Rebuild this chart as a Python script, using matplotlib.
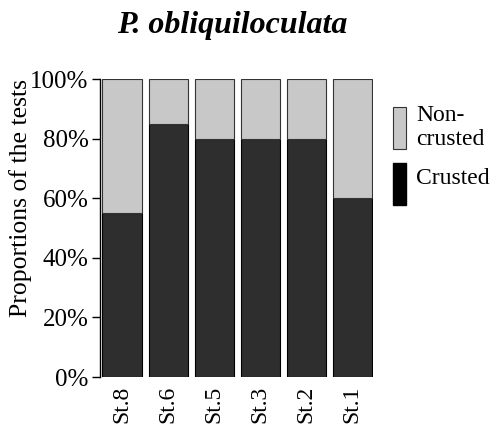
import numpy as np
import matplotlib
matplotlib.use("Agg")
import matplotlib.pyplot as plt
from matplotlib.patches import Patch, Rectangle
from matplotlib.legend_handler import HandlerPatch

matplotlib.rcParams.update({
    "font.family": "serif",
    "font.serif": ["Liberation Serif", "DejaVu Serif"],
    "font.size": 17,
})

stations = ["St.8", "St.6", "St.5", "St.3", "St.2", "St.1"]
crusted = [55, 85, 80, 80, 80, 60]
non_crusted = [100 - c for c in crusted]

dark = "#2e2e2e"
light = "#c8c8c8"

fig = plt.figure(figsize=(5, 4.28), dpi=100)
ax = fig.add_axes([0.199, 0.119, 0.547, 0.696])

x = np.arange(len(stations))
ax.bar(x, crusted, width=0.85, color=dark, edgecolor="black", linewidth=0.8)
ax.bar(x, non_crusted, bottom=crusted, width=0.85, color=light,
       edgecolor="#333333", linewidth=0.8)

ax.set_xlim(-0.49, 5.45)
ax.set_ylim(0, 100)
for s in ["top", "right", "bottom"]:
    ax.spines[s].set_visible(False)
ax.spines["left"].set_linewidth(1.0)
ax.set_yticks([0, 20, 40, 60, 80, 100])
ax.set_yticklabels(["0%", "20%", "40%", "60%", "80%", "100%"], fontsize=18)
ax.tick_params(axis="y", length=6, width=1.0, pad=2)
ax.set_xticks(x)
ax.set_xticklabels(stations, rotation=90, fontsize=17)
ax.tick_params(axis="x", length=0, pad=6)
ax.set_ylabel("Proportions of the tests", fontsize=18.5)
ax.yaxis.set_label_coords(-0.245, 0.6)

fig.text(0.464, 0.94, "P. obliquiloculata", ha="center", va="center",
         fontsize=23, fontweight="bold", fontstyle="italic")


# crusted box sits a bit lower than its label in the original
def low_rect(legend, orig_handle, xdescent, ydescent, width, height, fontsize):
    return Rectangle((-xdescent, -ydescent - 5), width, height)


crust_handle = Patch(facecolor="black", edgecolor="black")
handles = [Patch(facecolor=light, edgecolor="#333333", linewidth=0.8),
           crust_handle]
fig.legend(handles, ["Non-\ncrusted", "Crusted"], loc="upper left",
           bbox_to_anchor=(0.762, 0.783), frameon=False, handlelength=0.55,
           handleheight=2.3, handletextpad=0.45, labelspacing=0.28,
           borderpad=0, fontsize=17,
           handler_map={crust_handle: HandlerPatch(patch_func=low_rect)})

fig.savefig("out.png", dpi=100)
